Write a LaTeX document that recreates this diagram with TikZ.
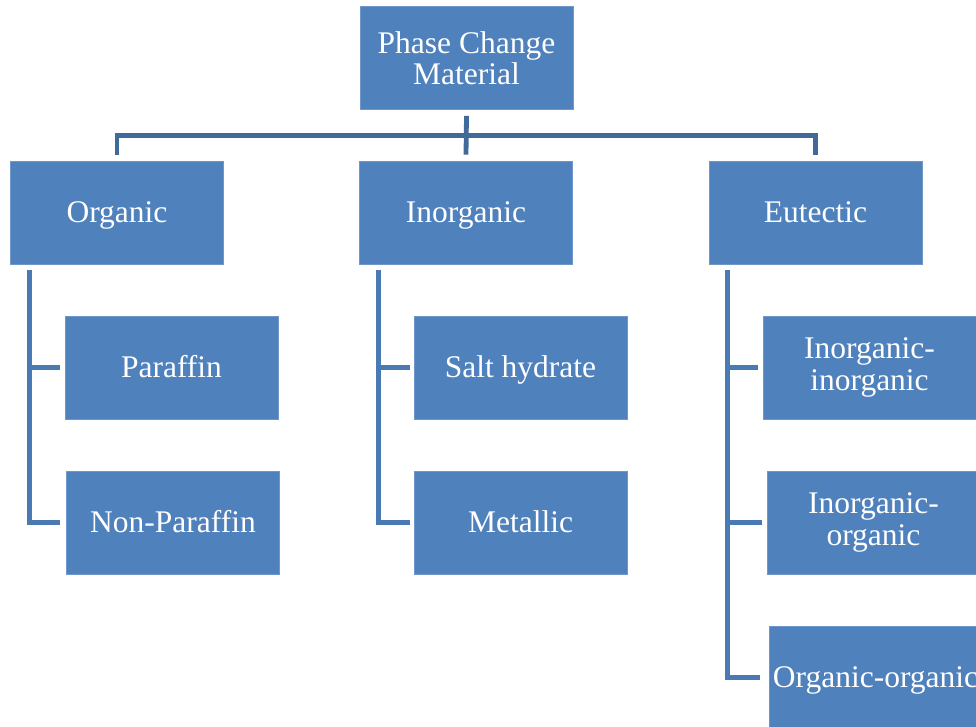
\documentclass[tikz,border=0pt]{standalone}
\usepackage{fontspec}
\setmainfont{Liberation Serif}
\usetikzlibrary{calc}
\definecolor{boxfill}{HTML}{4F81BD}
\definecolor{boxedge}{HTML}{6E97CB}
\definecolor{topline}{HTML}{41699A}
\definecolor{subline}{HTML}{4A7AB4}
\tikzset{
  pbox/.style={fill=boxfill, draw=boxedge, line width=0.6pt, minimum width=213pt, minimum height=103pt,
    inner sep=0pt, text=white, font=\fontsize{31.5}{31.5}\selectfont, align=center},
  onebox/.style={pbox, text height=22pt, text depth=2pt},
  topconn/.style={draw=topline, line width=4.8pt},
  subconn/.style={draw=subline, line width=5.2pt},
}
\begin{document}
\begin{tikzpicture}[x=1pt,y=-1pt]
\useasboundingbox (0,0) rectangle (976,727);
\begin{scope}
\clip (0,0) rectangle (976,727);
\node[pbox] (pcm) at (466.5,58) {Phase Change\\Material};
\node[onebox] (org) at (117,212.5) {Organic};
\node[onebox] (inorg) at (466,212.5) {Inorganic};
\node[onebox] (eut) at (815.5,212.5) {Eutectic};
\node[onebox] (par) at (171.5,367.5) {Paraffin};
\node[onebox] (npar) at (173,522.5) {Non-Paraffin};
\node[onebox] (salt) at (520.5,367.5) {Salt hydrate};
\node[onebox] (met) at (520.5,522.5) {Metallic};
\node[pbox] (ii) at (869.5,367.5) {Inorganic-\\inorganic};
\node[pbox] (io) at (873.5,522.5) {Inorganic-\\organic};
\node[onebox] (oo) at (875.5,677.5) {Organic-organic};

\coordinate (bus) at (466,135.5);
% top level
\draw[topconn] ([yshift=-6pt]pcm.south) -- ([yshift=6pt]inorg.north);
\draw[topconn] ([yshift=6pt]org.north) -- (org.north |- bus) -- (eut.north |- bus) -- ([yshift=6pt]eut.north);
% organic
\draw[subconn] ([xshift=19pt,yshift=-6pt]org.south west) |- ([xshift=-6pt]npar.west);
\draw[subconn] ([xshift=19pt]org.south west |- par.west) -- ([xshift=-5pt]par.west);
% inorganic
\draw[subconn] ([xshift=19pt,yshift=-6pt]inorg.south west) |- ([xshift=-4pt]met.west);
\draw[subconn] ([xshift=19pt]inorg.south west |- salt.west) -- ([xshift=-4pt]salt.west);
% eutectic
\draw[subconn] ([xshift=19pt,yshift=-6pt]eut.south west) |- ([xshift=-9pt]oo.west);
\draw[subconn] ([xshift=19pt]eut.south west |- ii.west) -- ([xshift=-5pt]ii.west);
\draw[subconn] ([xshift=19pt]eut.south west |- io.west) -- ([xshift=-5pt]io.west);
\end{scope}
\end{tikzpicture}
\end{document}
